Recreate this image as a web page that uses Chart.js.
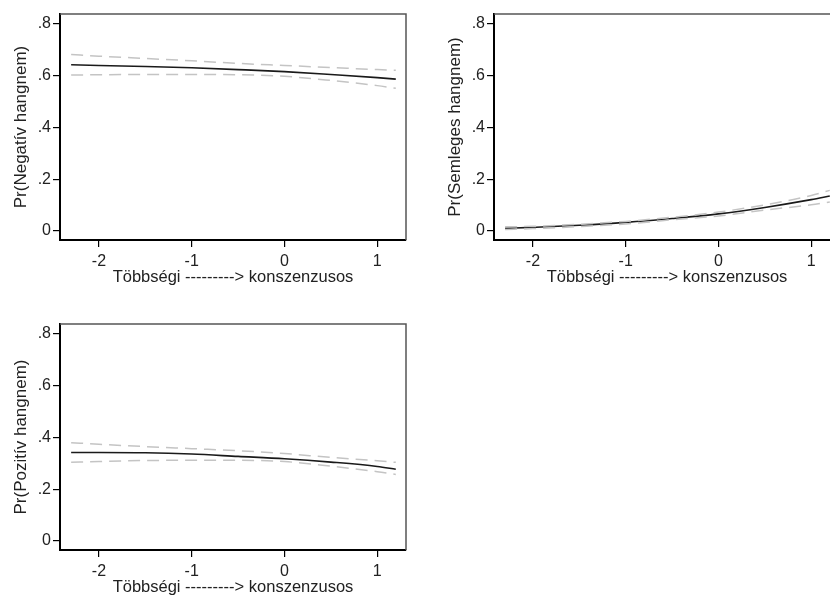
<!DOCTYPE html>
<html>
<head>
<meta charset="utf-8">
<script src="https://cdn.jsdelivr.net/npm/chart.js@4.4.0/dist/chart.umd.min.js"></script>
<style>
  html, body { margin: 0; padding: 0; background: #fff; }
  body { width: 830px; height: 596px; overflow: hidden; position: relative; }
  .panel { position: absolute; width: 420px; height: 300px; }
</style>
</head>
<body>
<div class="panel" style="left:0px;top:0px"><canvas id="c1"></canvas></div>
<div class="panel" style="left:434px;top:0px"><canvas id="c2"></canvas></div>
<div class="panel" style="left:0px;top:310px"><canvas id="c3"></canvas></div>
<script>
// x values (Többségi -> konszenzusos)
const xVals = [-2.3, -2, -1.5, -1, -0.5, 0, 0.5, 1, 1.2];

// Pr(Negatív hangnem)
const negMean  = [0.643, 0.640, 0.636, 0.631, 0.624, 0.616, 0.605, 0.593, 0.587];
const negUpper = [0.682, 0.676, 0.667, 0.658, 0.648, 0.640, 0.632, 0.624, 0.621];
const negLower = [0.603, 0.604, 0.605, 0.605, 0.604, 0.598, 0.582, 0.562, 0.552];

// Pr(Semleges hangnem)
const semMean  = [0.010, 0.014, 0.022, 0.033, 0.048, 0.066, 0.091, 0.121, 0.135];
const semUpper = [0.016, 0.018, 0.026, 0.037, 0.053, 0.073, 0.101, 0.137, 0.157];
const semLower = [0.006, 0.009, 0.017, 0.027, 0.043, 0.058, 0.081, 0.101, 0.112];

// Pr(Pozitív hangnem)
const pozMean  = [0.342, 0.342, 0.341, 0.336, 0.327, 0.318, 0.305, 0.288, 0.277];
const pozUpper = [0.380, 0.374, 0.365, 0.357, 0.349, 0.338, 0.323, 0.310, 0.304];
const pozLower = [0.304, 0.307, 0.311, 0.312, 0.312, 0.307, 0.289, 0.268, 0.257];

const xTicks = [-2, -1, 0, 1];
const xTickLabels = ['-2', '-1', '0', '1'];
const yTicks = [0, 0.2, 0.4, 0.6, 0.8];
const yTickLabels = ['0', '.2', '.4', '.6', '.8'];

const xTitle = 'Többségi ---------> konszenzusos';

const FONT = "'Liberation Sans', Arial, sans-serif";

// plot region outline (top/right thin grey, left/bottom drawn by axes)
const boxPlugin = {
  id: 'box',
  beforeDatasetsDraw(chart) {
    const { ctx, chartArea: a } = chart;
    ctx.save();
    ctx.strokeStyle = '#555';
    ctx.lineWidth = 1.5;
    ctx.beginPath();
    ctx.moveTo(a.left, a.top);
    ctx.lineTo(a.right, a.top);
    ctx.lineTo(a.right, a.bottom);
    ctx.stroke();
    ctx.restore();
  }
};

function pts(ys) {
  return xVals.map((x, i) => ({ x: x, y: ys[i] }));
}

function makeChart(id, mean, upper, lower, yTitle) {
  const ciStyle = {
    borderColor: '#c4c4c4',
    borderWidth: 1.5,
    borderDash: [12, 7],
    pointRadius: 0,
    fill: false,
    cubicInterpolationMode: 'monotone'
  };
  return new Chart(document.getElementById(id), {
    type: 'line',
    data: {
      datasets: [
        { label: 'upper', data: pts(upper), ...ciStyle },
        { label: 'lower', data: pts(lower), ...ciStyle },
        {
          label: 'pr',
          data: pts(mean),
          borderColor: '#1a1a1a',
          borderWidth: 1.6,
          pointRadius: 0,
          fill: false,
          cubicInterpolationMode: 'monotone'
        }
      ]
    },
    options: {
      responsive: true,
      maintainAspectRatio: false,
      animation: false,
      layout: { padding: { top: 14, right: 14, left: 0, bottom: 0 } },
      plugins: {
        legend: { display: false },
        tooltip: { enabled: false }
      },
      scales: {
        x: {
          type: 'linear',
          min: -2.42,
          max: 1.31,
          afterBuildTicks: (s) => { s.ticks = xTicks.map(v => ({ value: v })); },
          afterFit: (s) => { s.height = 60; },
          ticks: {
            callback: (v) => xTickLabels[xTicks.indexOf(v)],
            color: '#222',
            font: { family: FONT, size: 16 },
            padding: 5,
            maxRotation: 0
          },
          grid: { drawOnChartArea: false, drawTicks: true, tickLength: 7, color: '#000', lineWidth: 1.2 },
          border: { display: true, color: '#000', width: 2 },
          title: {
            display: true,
            text: xTitle,
            color: '#222',
            font: { family: FONT, size: 16.5 },
            padding: { top: 0, bottom: 13 }
          }
        },
        y: {
          min: -0.035,
          max: 0.839,
          afterBuildTicks: (s) => { s.ticks = yTicks.map(v => ({ value: v })); },
          afterFit: (s) => { s.width = 60; },
          ticks: {
            callback: (v) => yTickLabels[yTicks.indexOf(v)],
            color: '#222',
            font: { family: FONT, size: 16 },
            padding: 2
          },
          grid: { drawOnChartArea: false, drawTicks: true, tickLength: 7, color: '#000', lineWidth: 1.2 },
          border: { display: true, color: '#000', width: 2 },
          title: {
            display: true,
            text: yTitle,
            color: '#222',
            font: { family: FONT, size: 17 },
            padding: { top: 11, bottom: 0 }
          }
        }
      }
    },
    plugins: [boxPlugin]
  });
}

makeChart('c1', negMean, negUpper, negLower, 'Pr(Negatív hangnem)');
makeChart('c2', semMean, semUpper, semLower, 'Pr(Semleges hangnem)');
makeChart('c3', pozMean, pozUpper, pozLower, 'Pr(Pozitív hangnem)');
</script>
</body>
</html>
